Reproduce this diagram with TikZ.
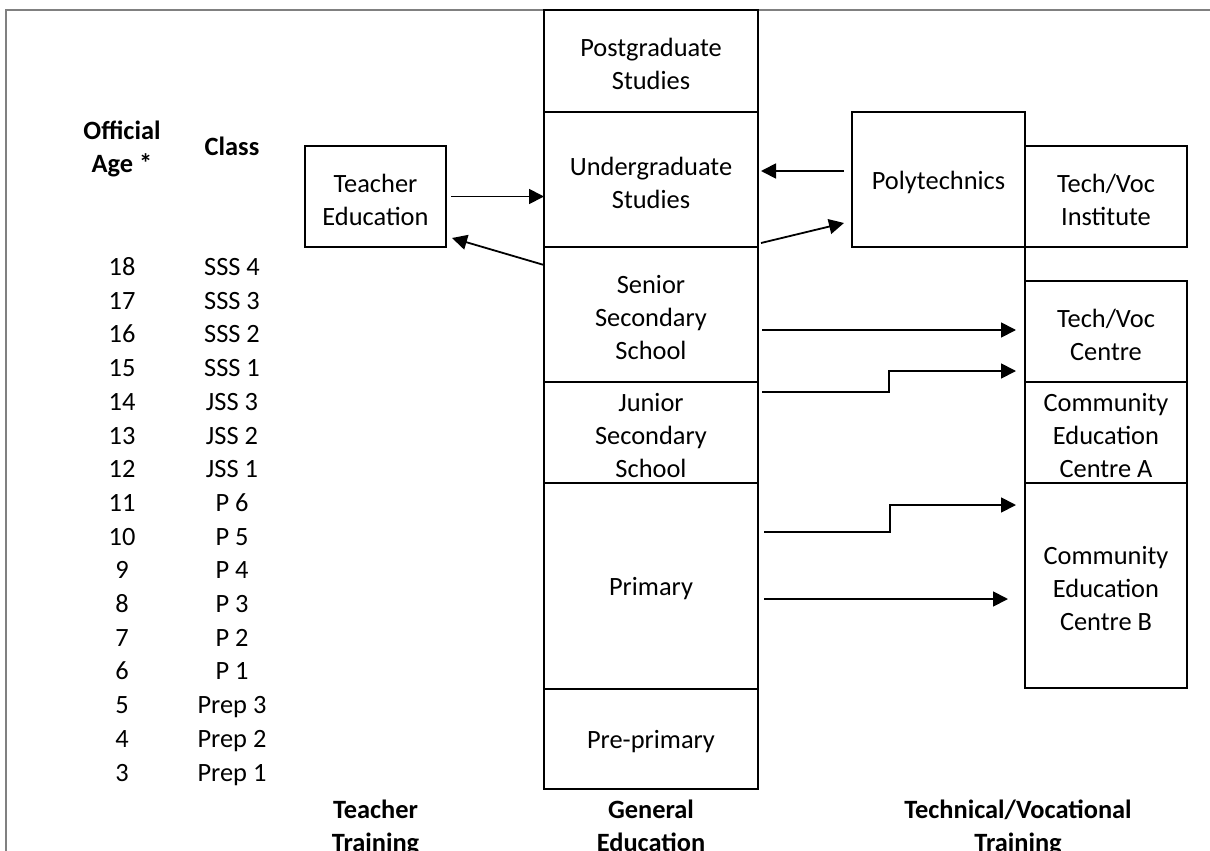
\documentclass[tikz,border=0pt]{standalone}
\usepackage{fontspec}
\setmainfont{Carlito}
\usetikzlibrary{arrows.meta,calc}
\begin{document}
\begin{tikzpicture}[x=0.5pt,y=-0.5pt,
  every node/.style={font=\fontsize{13.2pt}{16.5pt}\selectfont},
  box/.style={draw, line width=1pt, inner sep=0pt, outer sep=0pt},
  boxtext/.style={align=center, inner sep=0pt, yshift=-1.5pt},
  arr/.style={line width=0.9pt, -{Triangle[length=7.5pt,width=7.5pt]}},
  lbl/.style={inner sep=0pt, text height=8.5pt, text depth=0pt},
  hdr/.style={inner sep=0pt, align=center, text depth=0pt, font=\fontsize{13.2pt}{16.5pt}\selectfont\bfseries},
  frame/.style={draw=gray, line width=0.8pt},
  link/.style={line width=1pt}
]
\useasboundingbox (0,0) rectangle (1210,851);
\draw[frame] (6,851) -- (6,10) -- (1210,10);

% General education column
\node[box, minimum width=107pt, minimum height=51pt,   label={[boxtext]center:Postgraduate\\Studies}] (pg) at (651,61) {};
\node[box, minimum width=107pt, minimum height=67.5pt, label={[boxtext]center:Undergraduate\\Studies}] (ug) at (651,179.5) {};
\node[box, minimum width=107pt, minimum height=67.5pt, label={[boxtext]center:Senior\\Secondary\\School}] (ss) at (651,314.5) {};
\node[box, minimum width=107pt, minimum height=50.5pt, label={[boxtext]center:Junior\\Secondary\\School}] (js) at (651,432.5) {};
\node[box, minimum width=107pt, minimum height=103pt,  label={[boxtext]center:Primary}] (pr) at (651,586) {};
\node[box, minimum width=107pt, minimum height=50pt,   label={[boxtext]center:Pre-primary}] (pp) at (651,739) {};

% Teacher education
\node[box, minimum width=70.5pt, minimum height=50.5pt, label={[boxtext]center:Teacher\\Education}] (te) at (375.5,196.5) {};

% Technical / vocational
\node[box, minimum width=86.5pt, minimum height=67.5pt, label={[boxtext]center:Polytechnics}] (poly) at (938.5,179.5) {};
\node[box, minimum width=81pt, minimum height=50.5pt,  label={[boxtext]center:Tech/Voc\\Institute}] (tvi) at (1106,196.5) {};
\node[box, minimum width=81pt, minimum height=50.5pt,  label={[boxtext]center:Tech/Voc\\Centre}] (tvc) at (1106,331.5) {};
\node[box, minimum width=81pt, minimum height=50.5pt,  label={[boxtext]center:Community\\Education\\Centre A}] (ceca) at (1106,432.5) {};
\node[box, minimum width=81pt, minimum height=102.5pt, label={[boxtext]center:Community\\Education\\Centre B}] (cecb) at (1106,585.5) {};
\draw[link] (poly.south east) -- (tvc.north west);

% Arrows
\draw[arr] ([xshift=2.5pt]te.east) -- (te.east -| ug.west);
\draw[arr] ([yshift=-9pt]ss.north west) -- ([xshift=3pt,yshift=4.5pt]te.south east);
\coordinate (a3) at ([xshift=-4pt,yshift=4.25pt]poly.west);
\draw[arr] (a3) -- ($(a3 -| ug.east)+(1.5pt,0)$);
\draw[arr] ([xshift=1.5pt,yshift=2pt]ug.south east) -- ([xshift=-4pt,yshift=12pt]poly.south west);
\coordinate (a5) at ([xshift=2pt,yshift=-7.75pt]ss.east);
\draw[arr] (a5) -- ($(a5 -| tvc.west)+(-4.5pt,0)$);
\coordinate (a6) at ([xshift=2pt,yshift=-5pt]js.north east);
\coordinate (b6) at ([xshift=-4.5pt,yshift=5.5pt]tvc.south west);
\draw[arr] (a6) -| ($(a6)!0.5!(b6)$) |- (b6);
\coordinate (a7) at ([xshift=3pt,yshift=-24.5pt]pr.north east);
\coordinate (b7) at ([xshift=-4.5pt,yshift=-11pt]cecb.north west);
\draw[arr] (a7) -| ($(a7)!0.5!(b7)$) |- (b7);
\coordinate (a8) at ([xshift=3pt,yshift=-6.5pt]pr.east);
\draw[arr] (a8) -- ($(a8 -| cecb.west)+(-8.5pt,0)$);

% Age / class columns
\node[hdr] (hage) at (122,146.5) {Official\\Age *};
\node[hdr, text height=8.5pt] (hcls) at (232,147) {Class};
\foreach \a/\c [count=\i from 0] in {18/SSS 4,17/SSS 3,16/SSS 2,15/SSS 1,14/JSS 3,13/JSS 2,12/JSS 1,11/P 6,10/P 5,9/P 4,8/P 3,7/P 2,6/P 1,5/Prep 3,4/Prep 2,3/Prep 1}{
  \node[lbl] (age\a) at (122,{267+33.7*\i}) {\a};
  \node[lbl] (cls\a) at (232,{267+33.7*\i}) {\c};
}

% Bottom labels
\node[hdr] (btt) at (375.5,825.5) {Teacher\\Training};
\node[hdr] (bge) at (651,825.5) {General\\Education};
\node[hdr] (btv) at (1018,825.5) {Technical/Vocational\\Training};
\end{tikzpicture}
\end{document}
